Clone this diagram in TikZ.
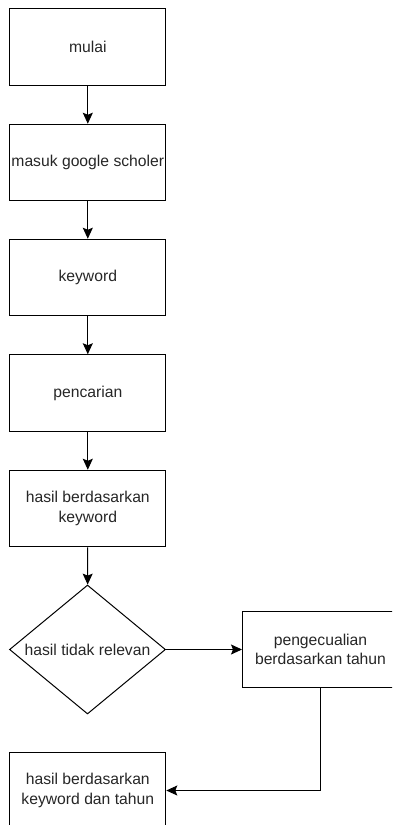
\documentclass[tikz,border=0pt]{standalone}
\usepackage{fontspec}
\setmainfont{Liberation Sans}
\usetikzlibrary{shapes.geometric,arrows.meta}

\begin{document}
\begin{tikzpicture}[x=1pt,y=-1pt,
  box/.style={draw,line width=1pt,minimum width=156pt,minimum height=76.5pt,align=center,inner sep=1pt,text=black!85,font=\fontsize{15.7}{19.5}\selectfont},
  decision/.style={draw,diamond,line width=1pt,minimum width=156pt,minimum height=129pt,shape aspect=1.2,inner sep=0pt,text=black!85,font=\fontsize{15.7}{19.5}\selectfont},
  arrow/.style={line width=1pt,-{Stealth[length=11pt,width=10pt,inset=2pt]}}]

\clip (0,0) rectangle (392,825);

\node[box] (mulai) at (87.8,47) {mulai};
\node[box] (masuk) at (87.8,162.5) {masuk google scholer};
\node[box] (keyword) at (87.8,277.5) {keyword};
\node[box] (cari) at (87.8,393) {pencarian};
\node[box] (hasil) at (87.8,508.5) {hasil berdasarkan\\keyword};
\node[decision] (relevan) at (87.5,649.5) {hasil tidak relevan};
\node[box] (kecuali) at (320.5,649.5) {pengecualian\\berdasarkan tahun};
\node[box] (akhir) at (87.8,790.5) {hasil berdasarkan\\keyword dan tahun};

\draw[arrow] (mulai) -- (masuk);
\draw[arrow] (masuk) -- (keyword);
\draw[arrow] (keyword) -- (cari);
\draw[arrow] (cari) -- (hasil);
\draw[arrow] (hasil) -- (relevan);
\draw[arrow] (relevan) -- (kecuali);
\draw[arrow] (kecuali.south) |- (akhir.east);

\end{tikzpicture}
\end{document}
